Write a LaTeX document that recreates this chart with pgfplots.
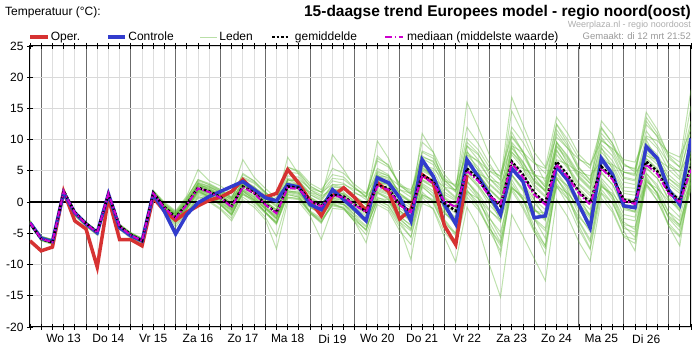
\documentclass[border=0pt]{standalone}
\usepackage{pgfplots}
\pgfplotsset{compat=1.18}
\usepackage{pgfplotstable}
\usepackage{fontspec}
\setmainfont{Liberation Sans}
\definecolor{oper}{RGB}{214,50,50}
\definecolor{ctrl}{RGB}{50,60,205}
\definecolor{leden}{RGB}{100,185,60}
\definecolor{med}{RGB}{205,0,205}

\pgfplotstableread{
name 0 1 2 3 4 5 6 7 8 9 10 11 12 13 14 15 16 17 18 19 20 21 22 23 24 25 26 27 28 29 30 31 32 33 34 35 36 37 38 39 40 41 42 43 44 45 46 47 48 49 50 51 52 53 54 55 56 57 58 59
oper -6.2 -7.8 -7.2 1.7 -3.0 -4.3 -10.4 0.7 -6.0 -6.0 -7.0 0.7 -1.4 -2.9 -1.6 -0.6 0.3 0.8 1.7 3.6 1.8 0.8 1.4 5.2 3.0 0.2 -2.2 1.0 2.3 0.7 -1.4 3.1 1.7 -2.7 -1.2 4.4 3.1 -3.8 -6.8 4.3 nan nan nan nan nan nan nan nan nan nan nan nan nan nan nan nan nan nan nan nan
ctrl -3.3 -5.8 -6.3 1.5 -1.7 -3.5 -4.9 1.3 -4.1 -5.4 -6.2 1.3 -1.5 -5.1 -2.0 -0.1 0.9 1.7 2.5 3.3 2.0 0.7 0.2 2.8 2.4 -0.4 -1.2 2.0 0.4 -1.2 -3.0 3.9 3.1 0.7 -3.0 6.8 4.1 -0.4 -3.5 6.8 4.1 1.2 -2.0 5.4 3.3 -2.5 -2.2 5.7 3.5 -0.4 -4.1 7.0 4.4 -0.6 -0.9 8.9 7.0 2.0 -0.4 10.2
mean -3.4 -5.9 -6.5 1.8 -1.6 -3.4 -4.8 1.3 -3.8 -5.2 -6.2 1.5 -0.8 -2.4 -0.3 2.3 1.7 0.8 -0.6 2.5 1.5 -0.3 -1.7 2.5 2.3 0.3 -0.6 1.2 0.9 -0.4 -1.5 2.7 2.2 -0.4 -1.5 4.4 3.3 -0.2 -1.4 5.4 3.6 1.2 -0.6 6.5 4.4 1.5 -0.1 6.5 4.3 1.7 -0.1 5.7 3.9 0.4 0.0 6.5 4.9 1.7 0.3 5.7
med -3.3 -5.9 -6.4 1.7 -1.7 -3.5 -4.9 1.4 -3.9 -5.3 -6.2 1.4 -0.9 -2.6 -0.4 2.2 1.6 0.7 -0.8 2.4 1.4 -0.4 -1.8 2.3 2.1 0.2 -0.7 1.0 0.8 -0.5 -1.6 2.5 2.0 -0.5 -1.6 4.2 3.0 0.1 -0.8 5.0 3.4 1.0 -0.3 6.2 4.0 1.2 -0.4 6.0 4.0 1.4 -0.4 5.4 3.6 0.2 -0.3 6.0 4.5 1.4 0.0 5.2
m1 -3.0 -5.5 -6.0 2.0 -1.5 -3.2 -4.6 1.5 -3.6 -5.0 -5.9 1.8 -0.3 -1.8 0.4 3.2 2.5 1.6 0.3 3.5 2.5 0.8 -0.5 3.8 3.4 1.5 0.6 2.6 2.2 0.9 -0.2 4.2 3.6 1.0 0.0 6.2 5.0 1.6 0.4 7.5 5.6 3.0 1.4 8.8 6.5 3.5 2.0 8.9 6.6 3.8 2.0 8.0 6.0 2.4 2.2 8.9 7.0 3.8 2.5 8.0
m2 -3.6 -6.2 -6.8 1.2 -2.2 -3.9 -5.3 0.8 -4.4 -5.8 -6.6 1.0 -1.5 -3.4 -1.5 1.2 0.6 -0.5 -2.0 1.2 0.0 -1.8 -3.4 0.8 0.5 -1.6 -2.8 -0.6 -1.0 -2.5 -4.0 0.2 -0.5 -3.2 -4.6 1.2 0.2 -3.4 -5.0 1.8 0.0 -2.6 -4.8 2.5 0.4 -2.8 -4.6 2.4 0.5 -2.4 -4.4 1.5 -0.2 -3.6 -4.0 2.8 1.0 -2.2 -3.6 2.0
m3 -3.2 -5.7 -6.2 1.8 -1.7 -3.4 -4.8 1.4 -3.8 -5.1 -6.0 1.6 -0.5 -2.0 0.0 3.0 2.6 1.8 0.8 4.0 3.2 1.5 0.2 4.8 4.6 2.5 1.6 3.8 3.6 2.2 1.0 7.4 5.8 2.6 1.4 8.0 7.0 3.8 2.5 10.2 8.4 5.6 4.0 12.0 9.6 6.4 4.6 12.5 10.0 7.0 5.4 11.0 9.0 5.8 5.4 12.4 10.6 7.0 5.6 13.0
m4 -3.5 -6.0 -6.6 1.4 -2.0 -3.7 -5.1 1.0 -4.2 -5.5 -6.4 1.2 -1.2 -3.0 -1.0 1.8 0.8 -0.4 -2.2 1.8 0.4 -1.6 -3.4 1.6 1.2 -1.4 -2.6 0.4 -0.2 -2.2 -3.8 1.4 0.6 -2.6 -4.4 2.8 1.4 -3.0 -5.4 3.2 1.2 -2.4 -5.6 4.2 1.8 -2.6 -5.8 4.6 2.0 -2.0 -4.8 3.4 1.0 -3.2 -4.4 4.6 2.4 -1.6 -3.8 3.6
m5 -3.1 -5.6 -6.1 1.7 -1.6 -3.3 -4.7 1.3 -3.9 -5.2 -6.1 1.5 -0.6 -1.8 0.2 2.6 2.4 1.6 0.6 3.0 2.4 1.2 0.4 3.4 3.6 2.2 1.6 2.8 2.8 2.0 1.4 4.2 4.0 2.6 2.0 5.8 5.4 3.4 2.8 7.6 6.6 5.0 4.2 9.0 8.0 6.2 5.4 10.4 8.6 6.8 6.0 9.8 8.6 6.8 6.4 10.6 9.8 8.0 7.2 11.6
m6 -3.4 -5.9 -6.4 1.5 -1.9 -3.6 -5.0 1.1 -4.1 -5.4 -6.3 1.3 -1.0 -2.8 -0.6 2.0 1.2 0.2 -1.4 1.8 0.8 -1.0 -2.6 1.6 1.4 -0.8 -1.8 0.2 -0.4 -2.0 -3.2 0.8 0.0 -2.8 -4.2 1.6 0.0 -4.0 -6.2 2.0 -0.6 -4.2 -7.0 1.8 -1.0 -4.8 -7.4 2.6 -0.4 -4.4 -7.6 1.4 -1.2 -5.4 -6.0 3.0 0.2 -3.8 -5.6 2.4
m7 -3.3 -5.8 -6.3 1.6 -1.8 -3.5 -4.9 1.2 -4.0 -5.3 -6.2 1.4 -0.9 -2.5 -0.4 2.4 1.8 0.9 -0.5 2.6 1.6 -0.2 -1.6 2.6 2.4 0.4 -0.5 1.3 1.0 -0.3 -1.4 2.8 2.3 -0.3 -1.4 4.5 3.4 -0.1 -1.3 5.6 3.7 1.3 -0.5 6.7 4.5 1.6 0.0 6.6 4.4 1.8 0.0 5.8 4.0 0.5 0.1 6.6 5.0 1.8 0.4 5.8
m8 -3.0 -5.6 -6.1 1.9 -1.6 -3.3 -4.7 1.4 -3.7 -5.0 -5.9 1.7 -0.4 -1.9 0.6 3.6 3.0 2.0 0.6 4.4 3.4 1.6 0.0 7.2 4.4 2.0 0.8 7.6 5.2 2.4 0.8 7.0 6.0 2.8 1.2 9.6 8.0 4.4 2.4 12.0 9.4 6.2 3.4 11.2 8.0 4.0 1.6 8.4 5.6 2.2 0.4 6.4 4.2 0.6 0.4 7.0 5.4 2.2 0.6 6.0
m9 -3.6 -6.1 -6.7 1.3 -2.1 -3.8 -5.2 0.9 -4.3 -5.6 -6.5 1.1 -1.8 -5.5 -2.0 0.8 0.0 -1.2 -3.0 0.4 -0.8 -2.8 -7.5 0.0 0.0 -2.2 -6.0 -1.0 -1.2 -3.0 -4.4 0.6 0.4 -2.4 -3.6 3.6 2.8 -0.4 -1.8 6.0 4.4 2.0 0.4 8.0 6.2 3.4 1.8 9.6 7.4 4.6 3.0 9.2 7.4 3.8 3.4 10.4 8.6 5.2 3.6 9.8
m10 -3.1 -5.5 -6.0 2.1 -1.5 -3.2 -4.6 1.6 -3.5 -4.9 -5.8 1.9 0.0 -1.4 1.0 5.2 3.4 2.6 1.4 6.8 4.0 2.2 0.6 5.6 5.0 3.0 2.0 4.4 4.0 2.2 0.8 5.4 4.4 1.4 0.0 5.6 4.0 0.6 -1.0 4.8 2.8 0.2 -2.0 4.4 2.0 -1.2 -3.0 3.8 1.6 -1.2 -3.2 2.6 1.0 -2.6 -3.0 3.4 1.6 -1.6 -3.0 2.6
m11 -3.4 -6.0 -6.5 1.5 -1.9 -3.6 -5.0 1.1 -4.1 -5.4 -6.3 1.3 -1.1 -2.9 -0.8 1.8 1.0 0.0 -1.6 1.4 0.2 -1.6 -3.2 1.2 0.8 -1.6 -3.0 -0.2 -1.0 -3.2 -6.5 0.0 -1.0 -4.0 -9.2 0.8 -1.2 -5.6 -9.6 -0.8 -4.0 -10.0 -15.2 -2.0 -5.4 -9.0 -12.6 0.4 -2.4 -6.4 -9.4 0.6 -1.6 -5.6 -6.6 2.6 0.2 -3.4 -5.4 3.2
m12 -3.2 -5.7 -6.2 1.8 -1.7 -3.4 -4.8 1.3 -3.9 -5.2 -6.1 1.5 -0.7 -2.2 0.0 2.8 2.2 1.2 -0.2 3.0 2.0 0.2 -1.2 3.2 2.8 0.6 -0.4 2.0 1.6 0.0 -1.2 4.6 3.8 0.8 -0.6 11.0 8.0 2.4 0.8 9.6 7.8 4.4 2.6 14.6 11.0 6.6 3.2 12.4 9.4 5.6 3.4 13.0 10.8 6.2 4.8 14.4 11.6 7.4 5.6 15.4
m13 -3.5 -6.0 -6.5 1.4 -2.0 -3.7 -5.1 1.0 -4.2 -5.5 -6.4 1.2 -1.4 -3.2 -1.2 1.6 1.0 -0.2 -1.8 1.6 0.6 -1.2 -2.8 1.8 1.6 -0.6 -1.6 0.6 0.2 -1.4 -2.6 2.0 1.4 -1.4 -2.8 3.4 2.4 -1.2 -2.6 4.4 2.4 -0.4 -2.4 5.2 3.0 -0.2 -2.0 5.4 3.2 0.2 -2.0 4.8 2.8 -1.2 -1.6 5.6 3.8 0.4 -1.4 5.0
m14 -3.0 -5.5 -6.0 1.9 -1.6 -3.3 -4.7 1.4 -3.7 -5.0 -5.9 1.7 -0.2 -1.6 0.8 3.4 2.8 2.0 0.8 3.8 3.0 1.4 0.2 4.2 4.0 2.0 1.2 3.4 3.0 1.6 0.4 9.8 7.0 2.0 0.8 7.2 6.6 3.0 1.6 9.0 7.6 5.0 3.6 16.8 12.4 8.0 5.6 13.6 11.0 7.6 5.8 12.0 9.4 6.0 5.2 11.4 9.0 6.2 4.8 11.0
m15 -3.3 -5.9 -6.3 1.6 -1.8 -3.5 -4.9 1.2 -4.0 -5.3 -6.2 1.4 -0.8 -2.4 -0.2 2.6 2.0 1.2 0.0 3.2 2.2 0.6 -0.8 3.6 3.2 1.2 0.2 2.4 2.2 0.8 -0.4 4.8 4.2 1.4 0.2 8.2 7.4 3.6 1.8 16.0 12.0 7.6 4.6 10.6 8.2 4.6 2.4 9.6 7.2 4.2 2.4 8.6 6.6 3.2 2.8 9.4 7.6 4.4 2.8 8.8
m16 -3.4 -5.9 -6.4 1.5 -1.9 -3.6 -5.0 1.1 -4.1 -5.4 -6.3 1.3 -1.0 -2.7 -0.7 2.0 1.4 0.4 -1.0 2.0 1.0 -0.8 -2.4 1.8 1.4 -0.8 -2.0 0.4 0.0 -1.6 -3.0 1.6 0.8 -2.2 -3.8 2.4 1.0 -2.8 -5.0 2.6 0.6 -3.2 -6.4 3.0 0.4 -3.8 -7.0 3.8 1.2 -3.0 -6.0 3.0 0.8 -3.8 -5.6 3.8 1.4 -2.6 -4.6 3.2
m17 -3.1 -5.6 -6.1 1.7 -1.7 -3.4 -4.8 1.3 -3.8 -5.1 -6.0 1.6 -0.6 -2.1 0.2 2.8 2.2 1.2 -0.2 2.8 1.8 0.0 -1.4 2.8 2.6 0.4 -0.6 1.6 1.2 -0.4 -1.6 3.2 2.6 -0.2 -1.4 5.0 4.0 0.6 -0.8 6.4 4.6 2.0 0.2 8.0 5.8 2.8 1.0 9.0 7.0 4.0 2.2 10.0 8.4 4.8 4.4 13.6 11.0 7.6 6.4 18.0
m18 -3.6 -6.1 -6.6 1.3 -2.1 -3.8 -5.2 0.9 -4.3 -5.6 -6.5 1.1 -1.6 -3.6 -1.8 1.0 0.2 -1.0 -2.6 0.8 -0.4 -2.4 -5.5 0.6 0.4 -1.8 -3.2 -0.4 -0.8 -2.8 -4.4 0.4 -0.6 -3.6 -5.6 1.0 -0.2 -4.0 -6.4 1.4 -0.8 -4.6 -7.8 2.2 -0.6 -4.4 -7.0 3.0 0.6 -3.2 -6.4 2.0 -0.2 -4.2 -4.8 3.6 1.4 -2.4 -4.0 4.0
m19 -3.2 -5.7 -6.2 1.7 -1.7 -3.4 -4.8 1.3 -3.9 -5.2 -6.1 1.5 -0.6 -2.2 -0.1 2.6 2.0 1.0 -0.4 2.8 1.8 0.0 -1.2 3.0 2.8 0.8 -0.2 1.6 1.4 0.2 -0.8 3.4 3.0 0.6 -0.4 5.4 4.4 1.2 0.2 7.0 5.2 2.8 1.2 8.6 6.4 3.2 1.8 8.2 5.8 3.0 1.4 7.4 5.6 1.8 1.6 8.4 6.6 3.2 1.8 7.4
m20 -3.4 -5.9 -6.4 1.5 -1.9 -3.6 -5.0 1.1 -4.1 -5.4 -6.3 1.3 -1.2 -2.9 -0.8 1.9 1.2 0.3 -1.2 2.0 0.8 -1.0 -2.6 1.8 1.6 -0.4 -1.4 0.6 0.4 -1.0 -2.2 1.8 1.2 -1.4 -2.6 3.0 1.8 -1.8 -3.4 3.4 1.4 -1.2 -3.2 4.4 2.2 -1.0 -2.8 4.8 2.4 -0.6 -2.6 3.8 1.8 -2.0 -2.4 4.6 2.8 -0.6 -2.4 4.2
m21 -3.2 -5.7 -6.3 1.7 -1.7 -3.4 -4.8 1.3 -3.9 -5.2 -6.1 1.5 -0.7 -2.3 -0.2 2.5 1.9 1.0 -0.3 2.8 1.8 0.1 -1.3 2.9 2.7 0.7 -0.2 1.6 1.3 0.0 -1.0 3.3 2.8 0.2 -0.9 5.2 4.2 0.8 -0.4 6.4 4.6 2.2 0.4 7.6 5.4 2.4 0.8 7.6 5.4 2.8 1.0 6.8 5.0 1.4 1.1 7.6 6.0 2.8 1.4 6.8
m22 -3.4 -5.9 -6.5 1.5 -1.9 -3.6 -5.0 1.1 -4.1 -5.4 -6.3 1.3 -1.1 -2.7 -0.6 2.1 1.4 0.5 -0.9 2.2 1.2 -0.6 -2.1 2.1 1.9 -0.1 -1.0 0.8 0.5 -0.8 -1.9 2.2 1.6 -1.0 -2.2 3.6 2.4 -1.0 -2.4 4.4 2.6 0.2 -1.6 5.4 3.2 0.4 -1.2 5.4 3.2 0.6 -1.2 4.6 2.8 -0.6 -0.9 5.4 3.8 0.6 -0.8 4.6
m23 -3.1 -5.6 -6.2 1.6 -1.6 -3.3 -4.7 1.2 -3.8 -5.1 -6.0 1.5 -0.6 -1.9 -0.1 2.0 1.8 1.2 0.5 2.4 2.0 1.0 0.2 2.6 2.6 1.6 1.0 2.0 2.0 1.4 0.8 3.0 3.0 2.0 1.4 4.0 3.8 2.4 2.0 5.0 4.6 3.6 3.0 6.0 5.4 4.4 3.8 6.8 6.0 4.8 4.2 6.6 6.0 4.8 4.6 7.4 6.8 5.6 5.0 8.0
m24 -3.3 -5.9 -6.5 1.8 -1.8 -3.5 -5.0 1.3 -4.0 -5.4 -6.3 1.5 -1.0 -2.9 -0.8 3.0 2.0 0.8 -1.2 3.4 1.8 -0.8 -2.6 3.6 2.8 -0.2 -1.6 2.2 1.2 -1.2 -3.0 4.4 3.0 -1.4 -3.2 6.2 4.2 -1.4 -3.8 8.2 5.0 0.6 -3.0 9.4 5.6 0.4 -2.6 9.6 6.0 1.0 -2.4 8.8 5.2 -0.8 -1.6 10.0 6.6 1.2 -1.4 9.4
m25 -3.5 -6.0 -6.6 1.4 -2.0 -3.7 -5.1 1.0 -4.2 -5.5 -6.4 1.2 -1.3 -3.1 -1.0 1.6 0.8 -0.4 -2.0 1.4 0.2 -1.6 -3.2 1.2 0.8 -1.6 -3.2 -0.4 -1.0 -3.2 -5.2 -0.4 -1.4 -4.6 -6.8 -0.2 -1.0 -4.8 -7.0 0.8 -1.2 -4.2 -6.6 2.4 0.6 -2.6 -4.2 4.0 2.6 -0.4 -2.0 5.6 3.8 0.2 0.0 7.0 5.2 1.6 0.2 6.6
m26 -3.0 -5.5 -6.0 2.0 -1.5 -3.2 -4.6 1.5 -3.6 -4.9 -5.8 1.8 -0.2 -1.6 0.6 3.6 2.8 1.8 0.6 4.6 3.4 1.6 0.2 5.6 4.8 2.6 1.6 5.4 4.6 2.8 1.4 6.6 5.6 3.0 1.6 7.4 6.4 3.4 1.8 8.0 6.4 3.8 2.2 9.6 7.4 4.4 2.8 11.0 8.6 5.4 3.6 10.4 8.0 4.0 3.6 9.0 7.0 3.8 2.2 7.6
m27 -3.3 -5.8 -6.3 1.5 -1.8 -3.5 -4.9 1.2 -4.1 -5.4 -6.2 1.3 -1.3 -4.0 -1.6 0.6 1.0 1.4 1.8 3.0 1.8 0.4 -0.2 2.6 2.2 -0.4 -1.2 1.8 0.6 -1.0 -2.6 3.6 2.8 0.4 -2.4 6.0 3.8 -0.6 -3.0 6.4 3.8 0.8 -1.8 5.8 3.6 -1.4 -1.8 6.0 3.8 -0.2 -3.4 6.6 4.2 -0.4 -0.6 8.0 6.4 1.8 -0.2 8.8
m28 -3.5 -6.1 -6.6 1.4 -2.0 -3.7 -5.1 1.0 -4.2 -5.6 -6.5 1.2 -1.3 -3.2 -1.1 1.8 0.9 -0.3 -2.0 1.8 0.4 -1.6 -3.6 1.4 1.0 -1.8 -3.4 0.2 -0.4 -2.6 -4.6 1.6 0.4 -3.2 -5.6 2.6 0.8 -3.8 -6.8 3.4 0.8 -3.6 -8.6 3.6 0.6 -4.6 -8.4 3.8 1.0 -3.8 -7.4 2.8 0.4 -4.6 -7.8 4.2 1.2 -3.8 -7.0 4.8
m29 -3.1 -5.6 -6.1 1.8 -1.6 -3.3 -4.7 1.4 -3.8 -5.1 -6.0 1.6 -0.5 -2.0 0.3 3.0 2.4 1.5 0.2 3.4 2.4 0.6 -0.6 3.6 3.4 1.2 0.4 2.8 2.4 0.8 -0.4 5.0 4.2 1.2 0.0 7.0 6.0 2.2 0.6 9.0 6.8 3.8 1.8 10.4 8.0 4.4 2.4 11.6 9.0 5.0 3.0 11.8 9.4 4.8 4.2 13.0 10.4 6.0 4.0 12.2
m30 -3.4 -6.0 -6.5 1.5 -1.9 -3.6 -5.0 1.1 -4.1 -5.4 -6.3 1.3 -1.2 -2.8 -1.0 1.4 0.8 -0.1 -1.3 1.2 0.4 -1.0 -2.2 0.8 0.6 -0.8 -1.8 -0.2 -0.4 -1.6 -2.6 0.4 0.0 -1.8 -2.8 1.2 0.4 -1.8 -3.0 1.6 0.6 -1.4 -2.8 2.2 1.0 -1.2 -2.6 2.6 1.4 -0.8 -2.2 2.4 1.4 -1.0 -1.4 3.2 2.2 0.2 -1.0 3.0
}\raw
\pgfplotstabletranspose[colnames from=name]\T\raw

\begin{document}
\begin{tikzpicture}[font=\fontsize{12}{14}\selectfont]
\path[use as bounding box] (-30pt,-26pt) rectangle (667pt,327pt);
\begin{axis}[
  scale only axis, width=661pt, height=281pt,
  xmin=0, xmax=59, ymin=-20, ymax=25,
  axis line style={black, line width=1pt},
  xtick={1,5,...,57}, xticklabels={},
  minor xtick={0,...,59},
  xmajorgrids, xminorgrids, ymajorgrids,
  major x grid style={black!58, line width=1pt},
  minor x grid style={black!13, line width=0.8pt},
  major y grid style={black!15, line width=0.8pt},
  ytick={-20,-15,...,25},
  ytick pos=left,
  tick align=center, major tick length=6pt, minor tick length=6pt,
  every tick/.style={black, line width=0.8pt},
  extra x ticks={3,7,...,55},
  extra x tick labels={Wo 13,Do 14,Vr 15,Za 16,Zo 17,Ma 18,Di 19,Wo 20,Do 21,Vr 22,Za 23,Zo 24,Ma 25,Di 26},
  extra x tick style={grid=none, major tick length=0pt, tick label style={yshift=-4pt}},
  tick label style={font=\fontsize{12}{14}\selectfont},
  /pgf/number format/assume math mode=true,
  legend columns=5,
  legend style={at={(0,1)}, anchor=south west, yshift=2pt, xshift=-1.5pt, draw=none, fill=none,
    inner sep=0pt, column sep=0pt, nodes={inner sep=1.5pt},
    font=\fontsize{12}{14}\selectfont},
]
\addlegendimage{oper, line width=3.5pt}\addlegendentry{\makebox[54pt][l]{Oper.}}
\addlegendimage{ctrl, line width=3.5pt}\addlegendentry{\makebox[70pt][l]{Controle}}
\addlegendimage{leden!45, line width=1pt}\addlegendentry{\makebox[50pt][l]{Leden}}
\addlegendimage{black, line width=2.5pt, dash pattern=on 2.5pt off 2pt}\addlegendentry{\makebox[91pt][l]{\hspace{3pt}gemiddelde}}
\addlegendimage{med, line width=2pt, dash pattern=on 7pt off 2.5pt on 1.5pt off 2.5pt}\addlegendentry{\hspace{2pt}mediaan (middelste waarde)}

\pgfplotsinvokeforeach{1,...,30}{
  \addplot[leden, opacity=0.42, line width=1pt, forget plot] table[x=colnames, y=m#1] {\T};
}
\addplot[black, line width=2pt, forget plot] coordinates {(0,0) (59,0)};
\addplot[oper, line width=3.5pt, forget plot] table[x=colnames, y=oper] {\T};
\addplot[ctrl, line width=3.5pt, forget plot] table[x=colnames, y=ctrl] {\T};
\addplot[black, line width=2.5pt, dash pattern=on 2.5pt off 2pt, forget plot] table[x=colnames, y=mean] {\T};
\addplot[med, line width=2pt, dash pattern=on 6pt off 2pt on 1.5pt off 2pt, forget plot] table[x=colnames, y=med] {\T};
\end{axis}
\node[anchor=west, inner sep=0pt] at (-25pt,315pt) {Temperatuur (°C):};
\node[anchor=east, inner sep=0pt, font=\bfseries\fontsize{15.5}{18}\selectfont] at (661pt,314pt) {15-daagse trend Europees model - regio noord(oost)};
\node[anchor=east, inner sep=0pt, text=black!32, font=\fontsize{9}{10}\selectfont] at (661pt,302pt) {Weerplaza.nl - regio noordoost};
\node[anchor=east, inner sep=0pt, text=black!40, font=\fontsize{9.5}{10}\selectfont] at (661pt,291pt) {Gemaakt: di 12 mrt 21:52};
\end{tikzpicture}
\end{document}
